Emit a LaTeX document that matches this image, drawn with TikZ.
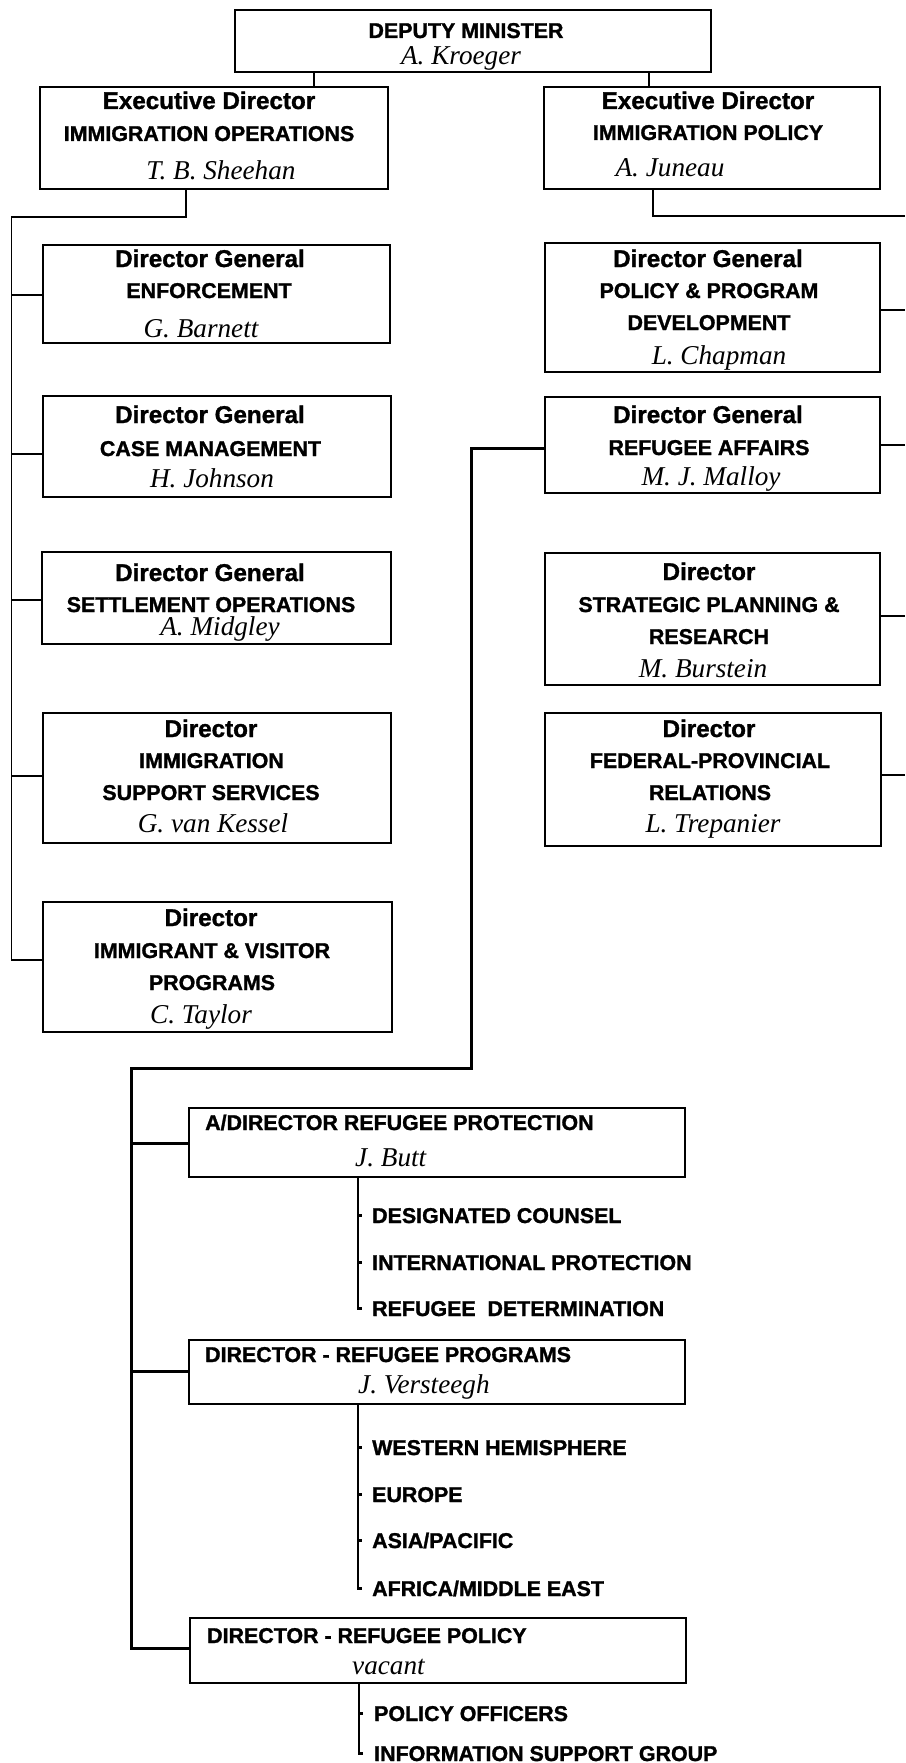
\documentclass[tikz,border=0pt]{standalone}
\usepackage{fontspec}
\setmainfont{Liberation Serif}
\newfontfamily\hsans{Liberation Sans}[BoldFeatures={FakeBold=1.3}]
\usetikzlibrary{calc}
\tikzset{
  box/.style={draw, line width=2pt, rectangle, inner sep=0pt},
  conn/.style={line width=1.8pt},
  thick conn/.style={line width=3pt},
  sub conn/.style={line width=2.2pt},
  hd/.style={font=\hsans\bfseries\fontsize{24.2}{27}\selectfont, inner sep=0pt, anchor=base},
  cp/.style={font=\hsans\bfseries\fontsize{21.4}{24}\selectfont, inner sep=0pt, anchor=base, text height=15pt, text depth=0pt},
  nm/.style={font=\itshape\fontsize{27.2}{30}\selectfont, inner sep=0pt, anchor=base},
}
\begin{document}
\begin{tikzpicture}[x=1pt,y=-1pt]
\path[fill=white, use as bounding box] (0,0) rectangle (905,1763);

% boxes
\node[box, minimum width=476pt, minimum height=62pt] (dm) at (473,41) {};
\node[box, minimum width=348pt, minimum height=102pt] (ed1) at (214,138) {};
\node[box, minimum width=336pt, minimum height=102pt] (ed2) at (712,138) {};
\node[box, minimum width=347pt, minimum height=98pt] (enf) at (216.5,294) {};
\node[box, minimum width=335pt, minimum height=129pt] (ppd) at (712.5,307.5) {};
\node[box, minimum width=348pt, minimum height=101pt] (case) at (217,446.5) {};
\node[box, minimum width=335pt, minimum height=96pt] (raf) at (712.5,445) {};
\node[box, minimum width=349pt, minimum height=92pt] (set) at (216.5,598) {};
\node[box, minimum width=335pt, minimum height=132pt] (spr) at (712.5,619) {};
\node[box, minimum width=348pt, minimum height=130pt] (iss) at (217,778) {};
\node[box, minimum width=336pt, minimum height=133pt] (fpr) at (713,779.5) {};
\node[box, minimum width=349pt, minimum height=130pt] (ivp) at (217.5,967) {};
\node[box, minimum width=496pt, minimum height=69pt] (rp) at (437,1142.5) {};
\node[box, minimum width=496pt, minimum height=64pt] (rpg) at (437,1372) {};
\node[box, minimum width=496pt, minimum height=65pt] (rpol) at (438,1650.5) {};

% texts
\node[cp] (dmt) at (466,38) {DEPUTY MINISTER};
\node[nm] (dmn) at (461,65) {A. Kroeger};

\node[hd] (ed1h) at (209,109) {Executive Director};
\node[cp] (ed1t) at (209,141) {IMMIGRATION OPERATIONS};
\node[nm] (ed1n) at (221,180) {T. B. Sheehan};

\node[hd] (ed2h) at (708,109) {Executive Director};
\node[cp] (ed2t) at (708,140) {IMMIGRATION POLICY};
\node[nm] (ed2n) at (670,177) {A. Juneau};

\node[hd] (enfh) at (210,267) {Director General};
\node[cp] (enft) at (209,298) {ENFORCEMENT};
\node[nm] (enfn) at (201,337) {G. Barnett};

\node[hd] (ppdh) at (708,267) {Director General};
\node[cp] (ppdt) at (709,298) {POLICY \& PROGRAM};
\node[cp] (ppdu) at (709,330) {DEVELOPMENT};
\node[nm] (ppdn) at (719,364) {L. Chapman};

\node[hd] (caseh) at (210,423) {Director General};
\node[cp] (caset) at (210.5,456) {CASE MANAGEMENT};
\node[nm] (casen) at (212,487) {H. Johnson};

\node[hd] (rafh) at (708,423) {Director General};
\node[cp] (raft) at (709,455) {REFUGEE AFFAIRS};
\node[nm] (rafn) at (711,485) {M. J. Malloy};

\node[hd] (seth) at (210,581) {Director General};
\node[cp] (sett) at (211,612) {SETTLEMENT OPERATIONS};
\node[nm] (setn) at (220,635) {A. Midgley};

\node[hd] (sprh) at (709,580) {Director};
\node[cp] (sprt) at (709,612) {STRATEGIC PLANNING \&};
\node[cp] (spru) at (709,644) {RESEARCH};
\node[nm] (sprn) at (703,677) {M. Burstein};

\node[hd] (issh) at (211,737) {Director};
\node[cp] (isst) at (211.5,768) {IMMIGRATION};
\node[cp] (issu) at (211,800) {SUPPORT SERVICES};
\node[nm] (issn) at (213,832) {G. van Kessel};

\node[hd] (fprh) at (709,737) {Director};
\node[cp] (fprt) at (710,768) {FEDERAL-PROVINCIAL};
\node[cp] (fpru) at (710,800) {RELATIONS};
\node[nm] (fprn) at (713,832) {L. Trepanier};

\node[hd] (ivph) at (211,926) {Director};
\node[cp] (ivpt) at (212,958) {IMMIGRANT \& VISITOR};
\node[cp] (ivpu) at (212,990) {PROGRAMS};
\node[nm] (ivpn) at (201,1023) {C. Taylor};

\node[cp, anchor=base west] (rpt) at (205,1130) {A/DIRECTOR REFUGEE PROTECTION};
\node[nm, anchor=base west] (rpn) at (355,1166) {J. Butt};
\node[cp, anchor=base west] (rpgt) at (205,1362) {DIRECTOR - REFUGEE PROGRAMS};
\node[nm, anchor=base west] (rpgn) at (358,1393) {J. Versteegh};
\node[cp, anchor=base west] (rpolt) at (207,1643) {DIRECTOR - REFUGEE POLICY};
\node[nm, anchor=base west] (rpoln) at (352,1674) {vacant};

% sub-items
\node[cp, anchor=base west] (dc) at (372,1223) {DESIGNATED COUNSEL};
\node[cp, anchor=base west] (ip) at (372,1270) {INTERNATIONAL PROTECTION};
\node[cp, anchor=base west] (rd) at (372,1316) {REFUGEE\ \ DETERMINATION};
\node[cp, anchor=base west] (wh) at (372,1455) {WESTERN HEMISPHERE};
\node[cp, anchor=base west] (eu) at (372,1502) {EUROPE};
\node[cp, anchor=base west] (ap) at (372,1548) {ASIA/PACIFIC};
\node[cp, anchor=base west] (am) at (372,1596) {AFRICA/MIDDLE EAST};
\node[cp, anchor=base west] (po) at (374,1721) {POLICY OFFICERS};
\node[cp, anchor=base west] (isg) at (374,1761) {INFORMATION SUPPORT GROUP};

% connectors: top
\draw[conn] (dm.south -| 314,0) -- (ed1.north -| 314,0);
\draw[conn] (dm.south -| 649,0) -- (ed2.north -| 649,0);

% left bus
\coordinate (lb) at (11.5,217);
\draw[conn] (ed1.south -| 186,0) |- (lb) |- (ivp.west |- 0,960);
\draw[conn] (lb |- 0,295) -- (enf.west |- 0,295);
\draw[conn] (lb |- 0,454) -- (case.west |- 0,454);
\draw[conn] (lb |- 0,600) -- (set.west |- 0,600);
\draw[conn] (lb |- 0,776) -- (iss.west |- 0,776);

% right bus (off the right edge)
\coordinate (rb) at (905,216);
\draw[conn] (ed2.south -| 653,0) |- (rb);
\draw[conn] (ppd.east |- 0,310) -- (rb |- 0,310);
\draw[conn] (raf.east |- 0,445) -- (rb |- 0,445);
\draw[conn] (spr.east |- 0,616) -- (rb |- 0,616);
\draw[conn] (fpr.east |- 0,775) -- (rb |- 0,775);

% refugee affairs branch
\coordinate (rv) at (471.5,1068);
\coordinate (rl) at (131,1068);
\draw[thick conn] (raf.west |- 0,448) -| (rv) -- (rl) |- (rpol.west |- 0,1648);
\draw[thick conn] (rl |- 0,1143) -- (rp.west |- 0,1143);
\draw[thick conn] (rl |- 0,1371) -- (rpg.west |- 0,1371);

% sub-item lines
\draw[sub conn] (rp.south -| 358,0) |- ($(rd.west)+(-10,0)$);
\draw[sub conn] ($(dc.west)+(-14,0)$) -- ($(dc.west)+(-10,0)$);
\draw[sub conn] ($(ip.west)+(-14,0)$) -- ($(ip.west)+(-10,0)$);

\draw[sub conn] (rpg.south -| 358,0) |- ($(am.west)+(-10,0)$);
\draw[sub conn] ($(wh.west)+(-14,0)$) -- ($(wh.west)+(-10,0)$);
\draw[sub conn] ($(eu.west)+(-14,0)$) -- ($(eu.west)+(-10,0)$);
\draw[sub conn] ($(ap.west)+(-14,0)$) -- ($(ap.west)+(-10,0)$);

\draw[sub conn] (rpol.south -| 359,0) |- ($(isg.west)+(-11,0)$);
\draw[sub conn] ($(po.west)+(-15,0)$) -- ($(po.west)+(-11,0)$);
\end{tikzpicture}
\end{document}
